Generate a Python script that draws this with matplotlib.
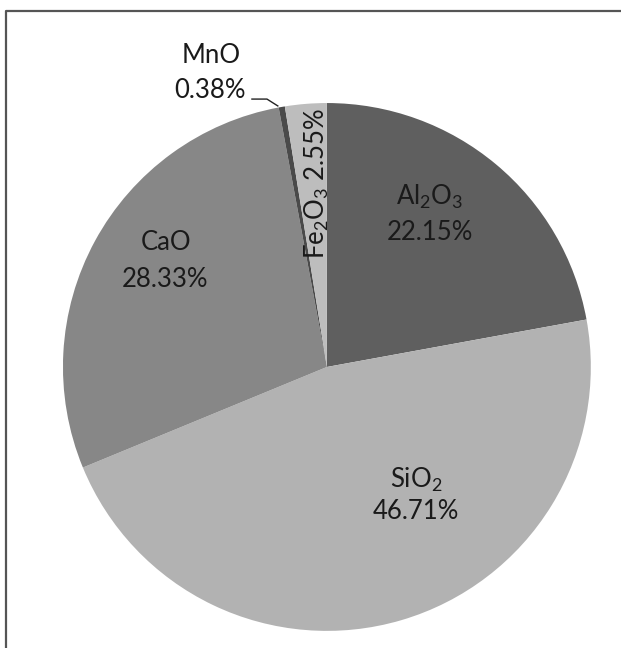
import matplotlib
matplotlib.use("Agg")
import matplotlib.pyplot as plt
from matplotlib.lines import Line2D

plt.rcParams['font.family'] = ['Lato', 'DejaVu Sans']
plt.rcParams['mathtext.fontset'] = 'custom'
plt.rcParams['mathtext.rm'] = 'Lato'
plt.rcParams['mathtext.it'] = 'Lato'

# Oxide composition (wt %)
oxides = [r'Al$_2$O$_3$', r'SiO$_2$', 'CaO', 'MnO', r'Fe$_2$O$_3$']
shares = [22.15, 46.71, 28.33, 0.38, 2.55]
shades = ['#5f5f5f', '#b2b2b2', '#878787', '#4a4a4a', '#bdbdbd']

fig = plt.figure(figsize=(6.21, 6.48), dpi=100)
ax = fig.add_axes([0.1014, 0.0262, 0.850, 0.815])
ax.pie(shares, colors=shades, startangle=90, counterclock=False,
       wedgeprops=dict(linewidth=0))
ax.set_xlim(-1, 1)
ax.set_ylim(-1, 1)
ax.set_aspect('equal')

fs = 18.5
tc = '#1a1a1a'
# labels: name on first line, percentage below
ax.text(0.39, 0.644, oxides[0], ha='center', va='center', fontsize=fs, color=tc)
ax.text(0.39, 0.511, f'{shares[0]:.2f}%', ha='center', va='center', fontsize=fs, color=tc)
ax.text(0.337, -0.428, oxides[1], ha='center', va='center', fontsize=fs, color=tc)
ax.text(0.337, -0.549, f'{shares[1]:.2f}%', ha='center', va='center', fontsize=fs, color=tc)
ax.text(-0.61, 0.47, oxides[2], ha='center', va='center', fontsize=fs, color=tc)
ax.text(-0.614, 0.33, f'{shares[2]:.2f}%', ha='center', va='center', fontsize=fs, color=tc)
ax.text(-0.439, 1.182, oxides[3], ha='center', va='center', fontsize=fs, color=tc, clip_on=False)
ax.text(-0.443, 1.049, f'{shares[3]:.2f}%', ha='center', va='center', fontsize=fs, color=tc, clip_on=False)
ax.text(-0.038, 0.693, f'{oxides[4]} {shares[4]:.2f}%', ha='center', va='center',
        rotation=90, fontsize=fs, color=tc)

# leader line for the small MnO slice
ax.plot([-0.284, -0.227, -0.186], [1.015, 1.015, 0.989], color='#222222', lw=1.0,
        clip_on=False)

# frame along top and left
fig.add_artist(Line2D([6 / 621, 6 / 621, 1.0], [0.0, 1 - 11 / 648, 1 - 11 / 648],
                      transform=fig.transFigure, color='#555555', lw=1.6))

fig.savefig('out.png', dpi=100, facecolor='white')
